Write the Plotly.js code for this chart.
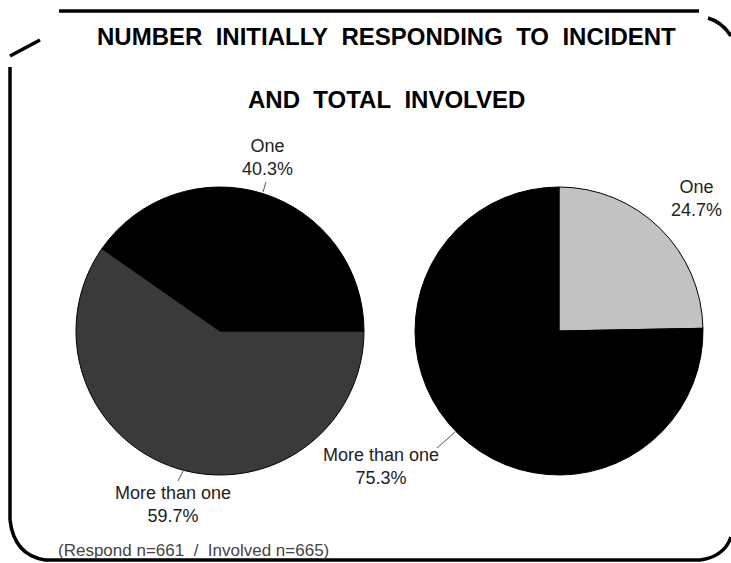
<!DOCTYPE html>
<html>
<head>
<meta charset="utf-8">
<script src="https://cdn.plot.ly/plotly-3.0.1.min.js"></script>
<style>html,body{margin:0;padding:0;background:#fff}#chart{width:731px;height:563px}</style>
</head>
<body>
<div id="chart"></div>
<script>
const categories = ["One", "More than one"];
const respondValues = [40.3, 59.7];
const involvedValues = [24.7, 75.3];
const respondColors = ["#000000", "#3a3a3a"];
const involvedColors = ["#c2c2c2", "#000000"];
const titleLines = ["NUMBER  INITIALLY  RESPONDING  TO  INCIDENT", "AND  TOTAL  INVOLVED"];
const footnote = "(Respond n=661  /  Involved n=665)";

const W = 731, H = 563;
const px = x => x / W;
const py = y => 1 - y / H;
const rev = a => a.slice().reverse();

const traces = [
  {
    type: "pie", labels: rev(categories), values: rev(respondValues), sort: false,
    direction: "clockwise", rotation: 90,
    marker: {colors: rev(respondColors), line: {color: "#000", width: 1}},
    textinfo: "none", hoverinfo: "none", showlegend: false,
    domain: {x: [px(76), px(364)], y: [py(475), py(187)]}
  },
  {
    type: "pie", labels: categories, values: involvedValues, sort: false,
    direction: "clockwise", rotation: 0,
    marker: {colors: involvedColors, line: {color: "#000", width: 1}},
    textinfo: "none", hoverinfo: "none", showlegend: false,
    domain: {x: [px(415), px(703)], y: [py(475), py(187)]}
  }
];

const fam = "Liberation Sans, Arial, Helvetica, sans-serif";
const labelFont = {family: fam, size: 18, color: "#222"};
const titleFont = {family: fam, size: 24, color: "#000"};
const lab = (i, vals) => categories[i] + "<br>" + vals[i] + "%";
const ann = (text, x, y, font, extra) => Object.assign(
  {text: text, x: px(x), y: py(y), xref: "paper", yref: "paper", showarrow: false,
   xanchor: "center", yanchor: "middle", font: font}, extra || {});
const annotations = [
  ann("<b>" + titleLines[0].replace(/ /g, "\u00a0") + "</b>", 386, 36, titleFont),
  ann("<b>" + titleLines[1].replace(/ /g, "\u00a0") + "</b>", 386, 99, titleFont),
  ann(lab(0, respondValues), 267, 157, labelFont),
  ann(lab(1, respondValues), 173, 505, labelFont),
  ann(lab(0, involvedValues), 696, 198, labelFont),
  ann(lab(1, involvedValues), 381, 466, labelFont),
  ann(footnote.replace(/ /g, "\u00a0"), 56, 550, {family: fam, size: 17, color: "#444"}, {xanchor: "left"})
];

const ln = {color: "#000", width: 3.5};
const thin = {color: "#555", width: 1};
const shapes = [
  {type: "line", xref: "paper", yref: "paper", x0: px(59), y0: py(11), x1: px(699), y1: py(11), line: ln},
  {type: "path", xref: "paper", yref: "paper",
   path: `M ${px(708)} ${py(18)} Q ${px(722)} ${py(22)} ${px(731)} ${py(36)}`, line: ln},
  {type: "line", xref: "paper", yref: "paper", x0: px(10), y0: py(56), x1: px(40), y1: py(40), line: ln},
  {type: "line", xref: "paper", yref: "paper", x0: px(10), y0: py(67), x1: px(10), y1: py(520), line: ln},
  {type: "path", xref: "paper", yref: "paper",
   path: `M ${px(10)} ${py(520)} Q ${px(14)} ${py(555)} ${px(45)} ${py(560)} L ${px(700)} ${py(560)} Q ${px(724)} ${py(557)} ${px(731)} ${py(537)}`, line: ln},
  {type: "line", xref: "paper", yref: "paper", x0: px(266), y0: py(182), x1: px(263), y1: py(192), line: thin},
  {type: "line", xref: "paper", yref: "paper", x0: px(178), y0: py(481), x1: px(183), y1: py(471), line: thin},
  {type: "line", xref: "paper", yref: "paper", x0: px(437), y0: py(448), x1: px(455), y1: py(432), line: thin}
];

const layout = {
  width: W, height: H,
  margin: {l: 0, r: 0, t: 0, b: 0},
  paper_bgcolor: "#fff", plot_bgcolor: "#fff",
  annotations: annotations, shapes: shapes, showlegend: false
};
Plotly.newPlot("chart", traces, layout, {displayModeBar: false, staticPlot: true});
</script>
</body>
</html>
